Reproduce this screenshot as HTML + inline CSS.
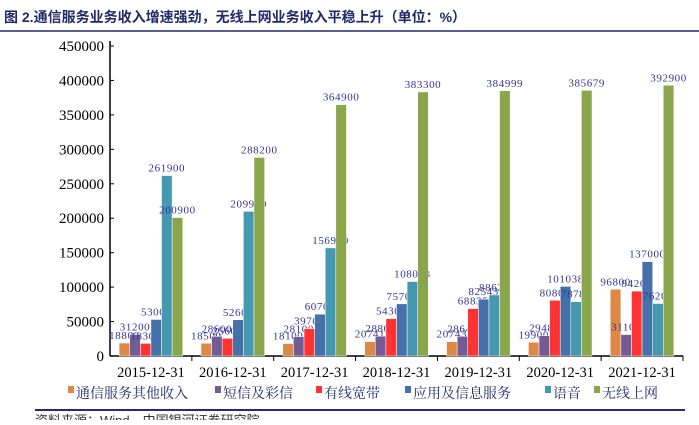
<!DOCTYPE html>
<html><head><meta charset="utf-8"><style>
body{margin:0;background:#fff;width:699px;height:420px;overflow:hidden;font-family:"Liberation Serif","Noto Serif CJK SC",serif}
</style></head><body>
<svg id="c" width="699" height="420" xmlns="http://www.w3.org/2000/svg">
<text x="4" y="22" font-size="14" font-weight="bold" fill="#1f2a6b" font-family="Liberation Sans, Noto Sans CJK SC, sans-serif">图 2.通信服务业务收入增速强劲，无线上网业务收入平稳上升（单位：%）</text>
<line x1="0" y1="31" x2="699" y2="31" stroke="#1f2a6b" stroke-width="1.5"/>
<line x1="35" y1="410" x2="685" y2="410" stroke="#1f2a8b" stroke-width="2"/>
<text x="35" y="425" font-size="13" fill="#333" font-family="Liberation Sans, Noto Sans CJK SC, sans-serif">资料来源：Wind，中国银河证券研究院</text>
<g id="plot"></g>
</svg>
<script>
const categories=["2015-12-31","2016-12-31","2017-12-31","2018-12-31","2019-12-31","2020-12-31","2021-12-31"];
const seriesNames=["通信服务其他收入","短信及彩信","有线宽带","应用及信息服务","语音","无线上网"];
const otherRev=[18800,18500,18100,20741,20743,19900,96800];
const smsRev=[31200,28600,28100,28800,28648,29485,31100];
const broadbandRev=[18300,25600,39700,54300,68835,80808,94200];
const appRev=[53000,52600,60700,75700,82543,101038,137000];
const voiceRev=[261900,209900,156900,108083,88624,78782,76200];
const wirelessRev=[200900,288200,364900,383300,384999,385679,392900];
const yTicks=[0,50000,100000,150000,200000,250000,300000,350000,400000,450000];
const series=[otherRev,smsRev,broadbandRev,appRev,voiceRev,wirelessRev];
const colors=["#dd8844","#735b94","#ff3333","#4570a8","#4499b0","#8aa64c"];
const NS="http://www.w3.org/2000/svg";
const g=document.getElementById('plot');
const x0=110,x1=683,y0=356,yTop=46,yMax=450000;
const gw=(x1-x0)/categories.length, bw=10.6;
const y=v=>y0-(v/yMax)*(y0-yTop);
function mk(t,a){const e=document.createElementNS(NS,t);for(const k in a)e.setAttribute(k,a[k]);g.appendChild(e);return e;}
let e=mk('line',{x1:x0,y1:yTop-5,x2:x0,y2:y0,stroke:'#000','stroke-width':1.5});


e=mk('line',{x1:x0,y1:y0,x2:x1,y2:y0,stroke:'#000','stroke-width':1.5});


yTicks.forEach(v=>{
  const t=mk('line',{x1:x0,y1:y(v),x2:x0+4,y2:y(v),stroke:'#000'});
  
  
  const l=mk('text',{x:x0-6,y:y(v)+5,'text-anchor':'end','font-size':15,fill:'#000'});
  l.textContent=v;
  
  
});
categories.forEach((c,i)=>{
  const gx=x0+i*gw;
  const t=mk('line',{x1:gx+gw,y1:y0,x2:gx+gw,y2:y0+5,stroke:'#000'});
  
  
  const l=mk('text',{x:gx+gw/2,y:y0+21,'text-anchor':'middle','font-size':14.5,fill:'#000'});
  l.textContent=c;
  
  
  series.forEach((s,j)=>{
    const bx=gx+(gw-6*bw)/2+j*bw, v=s[i];
    const r=mk('rect',{x:bx,y:y(v),width:bw,height:y0-y(v),fill:colors[j],stroke:'#fff','stroke-width':0.5});
    
    
    const tl=mk('text',{x:bx+bw/2,y:y(v)-4,'text-anchor':'middle','font-size':11,'letter-spacing':0.6,fill:'#333399'});
    tl.textContent=v;
    
    
  });
});
const lx=[68,215,316,405,545,594];
seriesNames.forEach((n,j)=>{
  const r=mk('rect',{x:lx[j],y:386,width:6,height:7,fill:colors[j]});
  
  
  const t=mk('text',{x:lx[j]+8,y:398,'font-size':14,fill:'#1f2a6b','font-family':'Liberation Serif, Noto Serif CJK SC, serif'});
  t.textContent=n;
  
  
});
</script>
</body></html>
